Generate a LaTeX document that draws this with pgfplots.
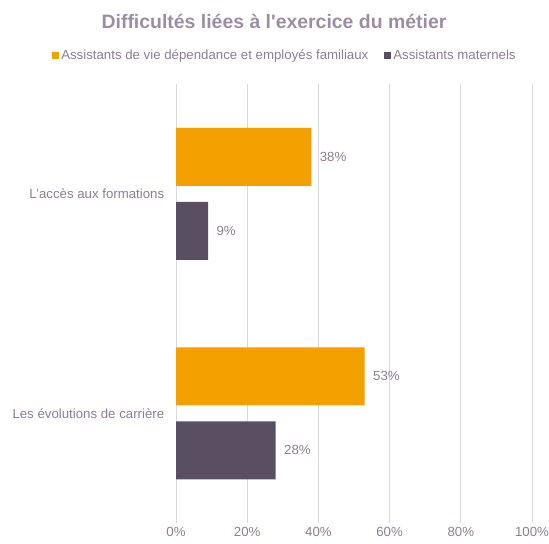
\documentclass[border=0pt]{standalone}
\usepackage{pgfplots}
\pgfplotsset{compat=1.18}
\usepackage{fontspec}
\setmainfont{Liberation Sans}[Ligatures=TeXOff]
\definecolor{orangebar}{HTML}{F4A000}
\definecolor{darkbar}{HTML}{5A4E62}
\definecolor{txt}{HTML}{8C7E93}
\definecolor{ttl}{HTML}{9C8EA2}
\definecolor{gridc}{HTML}{D9D9D9}
\begin{document}
\begin{tikzpicture}[x=1bp,y=1bp]
\path[use as bounding box] (0,0) rectangle (549,-544);
\node[font=\bfseries\fontsize{19.5}{22}\selectfont, text=ttl] at (274,-21) {Difficultés liées à l'exercice du métier};
\begin{axis}[
  at={(176bp,-523bp)}, anchor=south west,
  scale only axis, width=356bp, height=439bp,
  xbar, bar width=58bp,
  xmin=0, xmax=100, ymin=-0.5, ymax=1.5,
  xtick={0,20,40,60,80,100},
  xticklabels={0\%,20\%,40\%,60\%,80\%,100\%},
  ytick={0,1},
  yticklabels={Les évolutions de carrière, L’accès aux formations},
  xmajorgrids, ymajorgrids=false,
  major x grid style={draw=gridc, line width=0.9bp},
  axis line style={draw=none},
  xtick style={draw=none}, ytick style={draw=none},
  /pgf/number format/assume math mode=true,
  tick label style={font=\fontsize{13.3}{15}\selectfont, text=txt},
  xticklabel style={yshift=-1bp},
  yticklabel style={xshift=-4bp},
  nodes near coords={\pgfmathprintnumber{\pgfplotspointmeta}\%},
  nodes near coords style={font=\fontsize{13.3}{15}\selectfont, text=txt, anchor=west, xshift=5bp},
  point meta=explicit,
  legend style={at={(0.306,1.066)}, anchor=center, draw=none, fill=none,
    legend columns=2, font=\fontsize{13.3}{15}\selectfont, text=txt,
    /tikz/every even column/.append style={column sep=14bp},
    /tikz/every odd column/.append style={inner xsep=1bp}},
  legend image code/.code={\fill[#1] (0bp,-3.5bp) rectangle (7bp,3.5bp);},
  clip=false,
]
\addplot[fill=orangebar, draw=none, bar shift=37bp] coordinates {(53,0) [53] (38,1) [38]};
\addplot[fill=darkbar, draw=none, bar shift=-37bp] coordinates {(28,0) [28] (9,1) [9]};
\legend{Assistants de vie dépendance et employés familiaux, Assistants maternels}
\end{axis}
\end{tikzpicture}
\end{document}
